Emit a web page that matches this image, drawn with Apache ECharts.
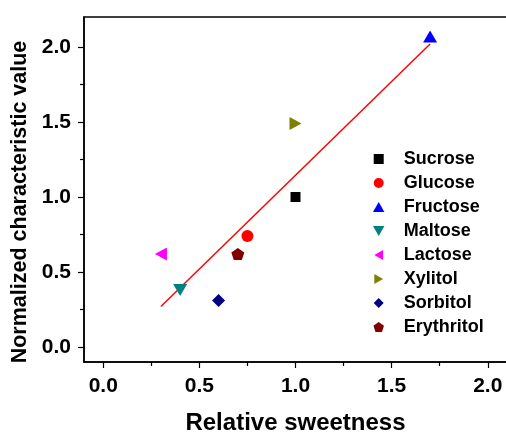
<!DOCTYPE html>
<html>
<head>
<meta charset="utf-8">
<script src="https://cdn.jsdelivr.net/npm/echarts@6/dist/echarts.min.js"></script>
<style>
  html, body { margin: 0; padding: 0; background: #fff; }
  #chart { width: 506px; height: 434px; }
</style>
</head>
<body>
<div id="chart"></div>
<script>
// Sugars: relative sweetness vs. normalized characteristic value
const names = ['Sucrose', 'Glucose', 'Fructose', 'Maltose', 'Lactose', 'Xylitol', 'Sorbitol', 'Erythritol'];
const sweetness = [1.0, 0.75, 1.7, 0.4, 0.3, 1.0, 0.6, 0.7];
const charValue = [1.0, 0.74, 2.07, 0.38, 0.62, 1.49, 0.31, 0.62];
const colors = ['#000000', '#ff0000', '#0000ff', '#008080', '#ff00ff', '#808000', '#000080', '#800000'];

// Linear fit line end points
const fitX = [0.3, 1.7];
const fitY = [0.27, 2.02];

// Tick values
const majorTicks = [0, 0.5, 1.0, 1.5, 2.0];
const minorTicksX = [0.25, 0.75, 1.25, 1.75];
const minorTicksY = [0.25, 0.75, 1.25, 1.75];

const symbols = [
  'path://M0,0 L2,0 L2,2 L0,2 Z',                       // square
  'circle',
  'path://M1,0 L2,1.75 L0,1.75 Z',                      // up triangle
  'path://M0,0 L2,0 L1,1.75 Z',                         // down triangle
  'path://M0,1 L1.75,0 L1.75,2 Z',                      // left triangle
  'path://M0,0 L1.75,1 L0,2 Z',                         // right triangle
  'path://M1,0 L2,1 L1,2 L0,1 Z',                       // diamond
  'path://M1,0 L1.951,0.691 L1.588,1.809 L0.412,1.809 L0.049,0.691 Z' // pentagon
];
const sizes = [[10, 10], 12, [14, 12], [14, 12], [12, 13], [12, 13], [13, 13], [13, 12]];

const FONT = '"Liberation Sans", Arial, sans-serif';

const series = names.map((n, i) => ({
  name: n,
  type: 'scatter',
  xAxisIndex: 0,
  yAxisIndex: 0,
  symbol: symbols[i],
  symbolSize: sizes[i],
  itemStyle: { color: colors[i], opacity: 1 },
  data: [[sweetness[i], charValue[i]]],
  z: 3
}));

series.push({
  name: 'fit',
  type: 'line',
  xAxisIndex: 0,
  yAxisIndex: 0,
  data: fitX.map((x, i) => [x, fitY[i]]),
  showSymbol: false,
  symbol: 'none',
  lineStyle: { color: '#ff0000', width: 1.5 },
  z: 2
});

const tickLabel = { color: '#000', fontSize: 21, fontWeight: 'bold', fontFamily: FONT };
const X_RANGE = { min: -0.1, max: 2.1 };
const Y_RANGE = { min: -0.1, max: 2.2 };

// Tick-only axis (no line, no labels) at the given values
function tickAxis(range, pos, values, len) {
  return Object.assign({
    type: 'value', position: pos,
    axisLine: { show: false, onZero: false },
    axisTick: { show: true, inside: false, length: len, customValues: values, lineStyle: { color: '#000', width: 1.2 } },
    axisLabel: { show: false },
    splitLine: { show: false }
  }, range);
}

const option = {
  animation: false,
  backgroundColor: '#ffffff',
  grid: {
    left: 84, top: 17, right: -1, bottom: 72,
    outerBoundsMode: 'none',
    containLabel: false,
    show: true, borderColor: '#000', borderWidth: 1.5, backgroundColor: 'transparent'
  },
  legend: {
    data: names,
    orient: 'vertical',
    left: 368,
    top: 145,
    itemWidth: 40,
    itemHeight: 10,
    itemGap: 6,
    symbolRotate: 0,
    textStyle: { color: '#000', fontSize: 18, fontWeight: 'bold', fontFamily: FONT, lineHeight: 18 },
    selectedMode: false
  },
  xAxis: [Object.assign({
    type: 'value', position: 'bottom',
    name: 'Relative sweetness', nameLocation: 'middle', nameGap: 49,
    nameTextStyle: { color: '#000', fontSize: 24, fontWeight: 'bold', fontFamily: FONT },
    axisLine: { show: true, onZero: false, lineStyle: { color: '#000', width: 1.5 } },
    axisTick: { show: false },
    axisLabel: Object.assign({ margin: 14, customValues: majorTicks, formatter: v => v.toFixed(1) }, tickLabel),
    splitLine: { show: false }
  }, X_RANGE),
    tickAxis(X_RANGE, 'bottom', majorTicks, 6),
    tickAxis(X_RANGE, 'bottom', minorTicksX, 4)
  ],
  yAxis: [Object.assign({
    type: 'value', position: 'left',
    name: 'Normalized characteristic value', nameLocation: 'middle', nameGap: 51,
    nameTextStyle: { color: '#000', fontSize: 21.5, fontWeight: 'bold', fontFamily: FONT, padding: [0, 25, 0, 0] },
    axisLine: { show: true, onZero: false, lineStyle: { color: '#000', width: 1.5 } },
    axisTick: { show: false },
    axisLabel: Object.assign({ margin: 13, customValues: majorTicks, formatter: v => v.toFixed(1) }, tickLabel),
    splitLine: { show: false }
  }, Y_RANGE),
    tickAxis(Y_RANGE, 'left', majorTicks, 6),
    tickAxis(Y_RANGE, 'left', minorTicksY, 4)
  ],
  series: series
};

const chart = echarts.init(document.getElementById('chart'), null, { renderer: 'canvas' });
chart.setOption(option);
</script>
</body>
</html>
